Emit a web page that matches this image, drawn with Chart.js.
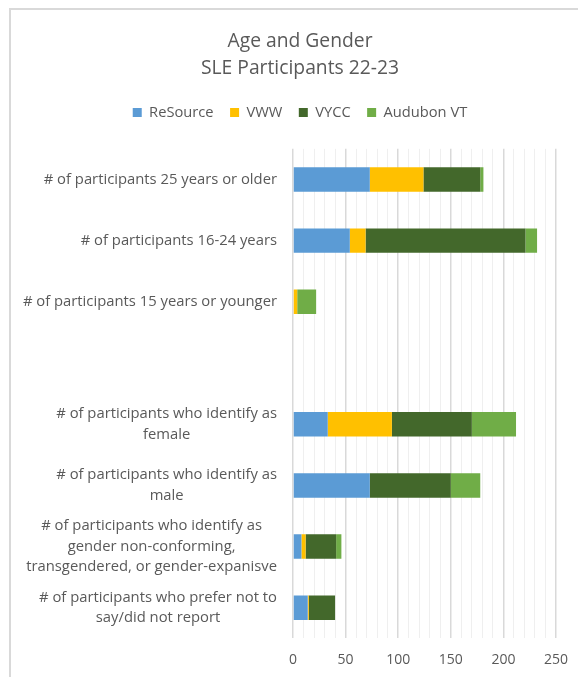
<!DOCTYPE html>
<html>
<head>
<meta charset="utf-8">
<script src="https://cdn.jsdelivr.net/npm/chart.js@4.4.0/dist/chart.umd.min.js"></script>
<style>
  html, body { margin: 0; padding: 0; background: #fff; overflow: hidden; }
  #frame { position: absolute; left: 9px; top: 8px; width: 640px; height: 720px; border: 2px solid #d9d9d9; }
  #wrap { position: absolute; left: 0; top: 0; width: 578px; height: 677px; }
</style>
</head>
<body>
<div id="frame"></div>
<div id="wrap"><canvas id="myChart"></canvas></div>
<script>
const categorias = [
  ['# of participants 25 years or older'],
  ['# of participants 16-24 years'],
  ['# of participants 15 years or younger'],
  [''],
  ['# of participants who identify as', 'female'],
  ['# of participants who identify as', 'male'],
  ['# of participants who identify as', 'gender non-conforming,', 'transgendered, or gender-expanisve'],
  ['# of participants who prefer not to', 'say/did not report']
];
const resource = [73, 54, 0, null, 33, 73, 8, 14];
const vww      = [51, 15, 4, null, 61, 0, 4, 1];
const vycc     = [54, 152, 0, null, 76, 77, 29, 25];
const audubon  = [3, 11, 18, null, 42, 28, 5, 0];
const ticksX = [0, 50, 100, 150, 200, 250];

const gris = '#595959';
const fuente = '"Open Sans", sans-serif';

// etiquetas del eje y: bloque alineado a la derecha, lineas centradas
const etiquetasY = {
  id: 'etiquetasY',
  afterDraw(chart) {
    const ctx = chart.ctx;
    const escala = chart.scales.y;
    const derecha = 277;
    const alto = 20.5;
    ctx.save();
    ctx.font = '14.8px ' + fuente;
    ctx.fillStyle = gris;
    ctx.textAlign = 'center';
    ctx.textBaseline = 'middle';
    categorias.forEach((lineas, i) => {
      const y = escala.getPixelForTick(i);
      let ancho = 0;
      lineas.forEach(l => { ancho = Math.max(ancho, ctx.measureText(l).width); });
      const cx = derecha - ancho / 2;
      lineas.forEach((l, j) => {
        ctx.fillText(l, cx, y + (j - (lineas.length - 1) / 2) * alto);
      });
    });
    ctx.restore();
  }
};

const espacioLeyenda = {
  id: 'espacioLeyenda',
  beforeInit(chart) {
    const fitOriginal = chart.legend.fit;
    chart.legend.fit = function () {
      fitOriginal.bind(chart.legend)();
      this.height += 19;
    };
  }
};

function grafico() {
  const ctx = document.getElementById('myChart').getContext('2d');
  const myChart = new Chart(ctx, {
    type: 'bar',
    data: {
      labels: categorias.map(c => c.join(' ')),
      datasets: [
        { label: 'ReSource', data: resource, backgroundColor: '#5b9bd5' },
        { label: 'VWW', data: vww, backgroundColor: '#ffc000' },
        { label: 'VYCC', data: vycc, backgroundColor: '#43682b' },
        { label: 'Audubon VT', data: audubon, backgroundColor: '#70ad47' }
      ]
    },
    options: {
      indexAxis: 'y',
      responsive: true,
      maintainAspectRatio: false,
      animation: false,
      datasets: { bar: { barPercentage: 0.4, categoryPercentage: 1 } },
      layout: { padding: { left: 44, right: 22, top: 0, bottom: 0 } },
      plugins: {
        title: {
          display: true,
          text: ['Age and Gender', 'SLE Participants 22-23'],
          color: gris,
          font: { family: fuente, size: 19.3, weight: 'normal', lineHeight: 1.4 },
          padding: { top: 28, bottom: 6.6 }
        },
        legend: {
          position: 'top',
          labels: {
            color: gris,
            boxWidth: 9,
            boxHeight: 9,
            padding: 16.5,
            font: { family: fuente, size: 14.7 }
          }
        },
        tooltip: { enabled: false }
      },
      scales: {
        x: {
          stacked: true,
          min: 0,
          max: 250,
          border: { display: false },
          grid: {
            drawTicks: false,
            color: c => (ticksX.includes(c.tick.value) ? '#d9d9d9' : '#efefef'),
            lineWidth: c => (ticksX.includes(c.tick.value) ? 1.5 : 1)
          },
          ticks: {
            stepSize: 10,
            autoSkip: false,
            maxRotation: 0,
            padding: 13.2,
            color: gris,
            font: { family: fuente, size: 14 },
            callback: v => (ticksX.includes(v) ? v : '')
          },
          afterFit(escala) {
            escala.paddingLeft = 0;
            escala.paddingRight = 0;
            escala.height = 38.6;
          }
        },
        y: {
          stacked: true,
          border: { display: false },
          grid: { display: false },
          ticks: { display: false },
          afterFit(escala) { escala.width = 249; }
        }
      }
    },
    plugins: [etiquetasY, espacioLeyenda]
  });
  return myChart;
}

grafico();
</script>
</body>
</html>
